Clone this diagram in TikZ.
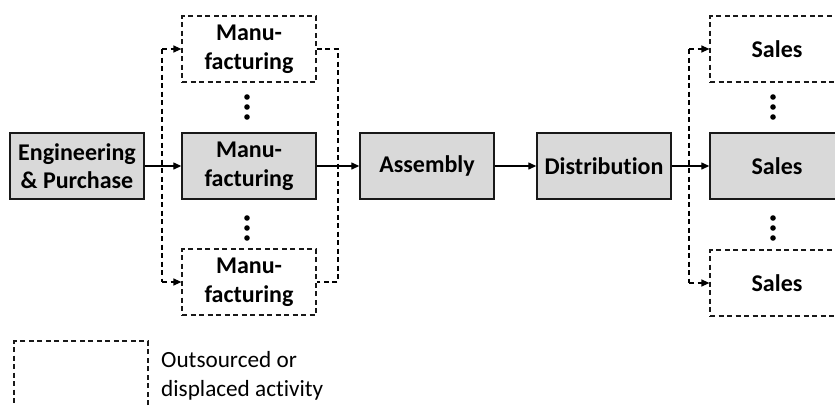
\documentclass[tikz,border=0pt]{standalone}
\usepackage{fontspec}
\setmainfont[Ligatures=NoCommon]{Carlito}
\usetikzlibrary{arrows.meta}
\begin{document}
\begin{tikzpicture}[x=1pt,y=-1pt,
  proc/.style={draw=black!90, line width=1.4pt, fill=gray!30,
    minimum width=134pt, minimum height=66pt, inner sep=0pt, align=center,
    font=\fontsize{24}{28.5}\selectfont\bfseries},
  ext/.style={proc, fill=none, line width=1.2pt, dash pattern=on 5pt off 3.5pt},
  dline/.style={line width=1.2pt, dash pattern=on 5pt off 3.5pt},
  tip/.style={-{Triangle[length=8pt,width=7pt]}},
  link/.style={line width=1.3pt, tip},
  dlink/.style={dline, tip},
  vdot/.style={fill=black}]
\useasboundingbox (0,0) rectangle (835,405);
\clip (0,0) rectangle (835,405);

% main chain
\node[proc] (eng) at (77,166) {Engineering\\\& Purchase};
\node[proc] (mfg) at (249,166) {Manu-\\facturing};
\node[proc] (asm) at (427,166) {Assembly};
\node[proc] (dst) at (604,166) {Distribution};
\node[proc] (sal) at (777,166) {Sales};

% outsourced alternatives
\node[ext] (mfgA) at (249,49) {Manu-\\facturing};
\node[ext] (mfgB) at (249,282) {Manu-\\facturing};
\node[ext] (salA) at (777,49) {Sales};
\node[ext] (salB) at (777,283) {Sales};

% ellipses between alternatives
\foreach \x in {247,773} {
  \foreach \y in {97,107,117,218,228,238} {
    \fill[vdot] (\x,\y) circle (2.8pt);
  }
}

% branching buses
\coordinate (mbL1) at (162,49);
\coordinate (mbL2) at (162,282);
\coordinate (mbR1) at (338,49);
\coordinate (mbR2) at (338,282);
\coordinate (sb1) at (689,49);
\coordinate (sb2) at (689,283);

\draw[dline] (mbL1) -- (mbL2);
\draw[dlink] (mbL1) -- (mfgA.west);
\draw[dlink] (mbL2) -- (mfgB.west);
\draw[dline] (mfgA.east) -- (mbR1) -- (mbR2) -- (mfgB.east);
\draw[dline] (sb1) -- (sb2);
\draw[dlink] (sb1) -- (salA.west);
\draw[dlink] (sb2) -- (salB.west);

% flow arrows
\draw[link] (eng) -- (mfg);
\draw[link] (mfg) -- (asm);
\draw[link] (asm) -- (dst);
\draw[link] (dst) -- (sal);

% legend
\node[ext] (leg) at (81,374) {};
\node[anchor=base west, inner sep=0pt, align=left,
  font=\fontsize{23.2}{28.5}\selectfont] (legtxt) at (161,396)
  {Outsourced or\\displaced activity};
\end{tikzpicture}
\end{document}
